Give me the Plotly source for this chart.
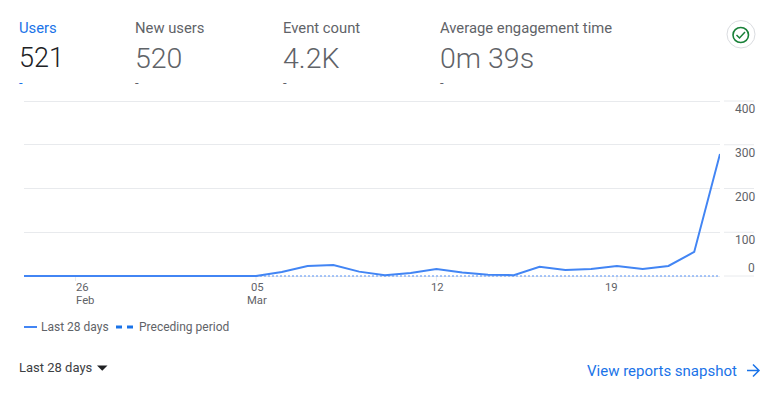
import plotly.graph_objects as go
import pandas as pd

W, H = 776, 393
L, R = 24, 720
Y400, Y0 = 101, 276      # pixel rows of the 400 and 0 gridlines
PAD = 4                  # extra room so the gridlines at the ends are drawn
T, B = Y400 - PAD, Y0 + PAD

dates = pd.date_range("2023-02-24", "2023-03-23").strftime("%Y-%m-%d").tolist()
last_28_days = [0, 0, 0, 0, 0, 0, 0, 0, 0, 0, 9, 23, 25, 10, 2, 7, 16, 8, 3, 2,
                21, 14, 16, 23, 16, 23, 55, 279]
preceding_period = [0] * 28
y_ticks = [0, 100, 200, 300, 400]
x_tick_dates = ["2023-02-26", "2023-03-05", "2023-03-12", "2023-03-19"]
x_tick_labels = ["26", "05", "12", "19"]
x_tick_months = ["Feb", "Mar", "", ""]
x_tick_anchors = ["left", "center", "center", "right"]
x_tick_shifts = [-2, 1, 1, 3]
kpi_names = ["Users", "New users", "Event count", "Average engagement time"]
kpi_values = ["521", "520", "4.2K", "0m 39s"]
kpi_sizes = [27, 28.5, 28.5, 28.5]
kpi_x = [19, 135, 283, 440]

FONT = "Roboto"
BLUE = "#4285f4"
LINK = "#1a73e8"
GREY = "#5f6368"
GRID = "#e8eaed"
unit = 400 / (Y0 - Y400)


def px(x):
    return (x - L) / (R - L)


def py(y):
    return (B - y) / (B - T)


fig = go.Figure()
fig.add_trace(go.Scatter(x=dates, y=preceding_period, name="Preceding period", mode="lines",
                         line=dict(color="#8ab4f8", width=1.6, dash="2px 2px"),
                         cliponaxis=False, hoverinfo="skip"))
fig.add_trace(go.Scatter(x=dates, y=last_28_days, name="Last 28 days", mode="lines",
                         line=dict(color=BLUE, width=2),
                         cliponaxis=False))

ann = []
shapes = []


def text(x, y, s, size, color, anchor="left", weight=None):
    ann.append(dict(x=px(x), y=py(y), xref="paper", yref="paper", text=s, showarrow=False,
                    xanchor=anchor, yanchor="middle", align=anchor,
                    font=dict(family=FONT, size=size, color=color, weight=weight or 400),
                    borderpad=0, borderwidth=0))


def path(d, **kw):
    shapes.append(dict(type="path", path=d, xref="paper", yref="paper", layer="above", **kw))


def P(x, y):
    return f"{px(x):.5f} {py(y):.5f}"


# KPI header
for i, (name, value, x, sz) in enumerate(zip(kpi_names, kpi_values, kpi_x, kpi_sizes)):
    name_c = LINK if i == 0 else GREY
    val_c = "#202124" if i == 0 else GREY
    text(x, 28, name, 14.8, name_c)
    text(x, 58, value, sz, val_c, weight=300)
    text(x, 83, "-", 13, name_c)

# Right tick stubs and labels
for v in y_ticks:
    shapes.append(dict(type="line", xref="paper", yref="y", x0=px(724), x1=px(754), y0=v, y1=v,
                       line=dict(color=GRID, width=1), layer="below"))
    offset = -8 if v == 0 else 8
    text(755, Y0 - v / unit + offset, str(v), 12, GREY, "right")

# X ticks and labels
for d, lab, month, a, sh in zip(x_tick_dates, x_tick_labels, x_tick_months, x_tick_anchors, x_tick_shifts):
    shapes.append(dict(type="line", xref="x", yref="paper", x0=d, x1=d, y0=py(Y0), y1=py(Y0 + 5),
                       line=dict(color=GRID, width=1), layer="below"))
    for txt, row in ((lab, 287.4), (month, 300.8)):
        if txt:
            ann.append(dict(x=d, y=py(row), xref="x", yref="paper", text=txt, showarrow=False,
                            xanchor=a, yanchor="middle", xshift=sh,
                            font=dict(family=FONT, size=11.3, color=GREY)))

# Legend
path(f"M {P(24, 327)} L {P(37, 327)}", line=dict(color=BLUE, width=2))
text(41, 327, "Last 28 days", 12, GREY)
path(f"M {P(116, 327)} L {P(122, 327)}", line=dict(color=LINK, width=3))
path(f"M {P(127, 327)} L {P(133, 327)}", line=dict(color=LINK, width=3))
text(139, 327, "Preceding period", 12, GREY)

# Footer
text(19, 367.5, "Last 28 days", 13, "#3c4043")
path(f"M {P(97, 365.5)} L {P(107.5, 365.5)} L {P(102.25, 370.8)} Z", fillcolor="#202124", line=dict(width=0))
text(587, 371, "View reports snapshot", 15, LINK)
path(f"M {P(747, 370.5)} L {P(759, 370.5)} M {P(753, 364.5)} L {P(759, 370.5)} L {P(753, 376.5)}",
     line=dict(color=LINK, width=1.5))

# Status badge
shapes.append(dict(type="circle", xref="paper", yref="paper", x0=px(727), x1=px(755),
                   y0=py(48), y1=py(20.5), line=dict(color="#dadce0", width=1), fillcolor="white",
                   layer="above"))
shapes.append(dict(type="circle", xref="paper", yref="paper", x0=px(733), x1=px(748.5),
                   y0=py(42.5), y1=py(27.5), line=dict(color="#188038", width=1.6),
                   layer="above"))
path(f"M {P(736.5, 35)} L {P(739.5, 38)} L {P(745, 32)}", line=dict(color="#188038", width=1.5))

fig.update_layout(
    width=W, height=H, autosize=False,
    margin=dict(l=L, r=W - R, t=T, b=H - B, pad=0),
    paper_bgcolor="white", plot_bgcolor="white",
    showlegend=False,
    font=dict(family=FONT, color=GREY),
    xaxis=dict(range=[dates[0], dates[-1]], type="date", showgrid=False, zeroline=False,
               showline=False, ticks="", showticklabels=False),
    yaxis=dict(range=[-PAD * unit, 400 + PAD * unit], tickmode="array", tickvals=y_ticks,
               showticklabels=False, showgrid=True, gridcolor=GRID, gridwidth=1,
               zeroline=False, showline=False, ticks=""),
    annotations=ann, shapes=shapes,
)
fig.write_html("out.html", config=dict(displayModeBar=False),
               post_script="document.body.style.margin='0';document.body.style.overflow='hidden';")
